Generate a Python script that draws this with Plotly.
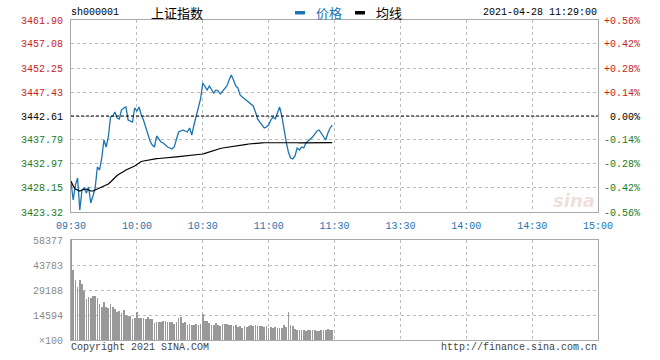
import plotly.graph_objects as go

# ---------------- data ----------------
prev_close = 3442.61

price = [
    3429.35, 3425.73, 3428.75, 3430.15, 3423.72, 3427.74, 3428.14, 3427.14, 3428.34, 3425.13,
    3426.53, 3428.14, 3432.36, 3431.76, 3434.17, 3437.79, 3436.38, 3438.39, 3442.41, 3442.61,
    3443.41, 3442.21, 3442.01, 3443.82, 3444.22, 3444.42, 3441.81, 3441.61, 3441.40, 3444.22,
    3443.61, 3444.42, 3442.81, 3441.81, 3440.40, 3438.79, 3437.59, 3436.78, 3436.38, 3438.59,
    3437.99, 3437.39, 3437.19, 3436.78, 3436.38, 3436.18, 3435.98, 3436.38, 3438.19, 3439.40,
    3439.60, 3439.80, 3439.60, 3439.40, 3440.20, 3438.79, 3440.80, 3442.61, 3444.22, 3446.03,
    3449.24, 3448.44, 3447.84, 3448.64, 3447.84, 3447.23, 3447.84, 3447.64, 3447.03, 3447.64,
    3448.24, 3448.64, 3449.85, 3450.85, 3449.85, 3448.64, 3448.24, 3446.83, 3446.43, 3446.03,
    3445.83, 3445.43, 3445.02, 3444.62, 3443.41, 3442.01, 3441.40, 3440.80, 3440.20, 3440.40,
    3440.80, 3441.81, 3442.41, 3442.01, 3443.41, 3444.42, 3442.61, 3439.80, 3437.39, 3435.38,
    3434.17, 3433.97, 3434.57, 3436.18, 3435.78, 3436.38, 3436.18, 3437.19, 3437.59, 3437.79,
    3438.39, 3438.99, 3439.60, 3439.80, 3439.19, 3438.59, 3437.79, 3439.19, 3440.20, 3440.80,
]

avg_price = [
    3429.55, 3428.55, 3427.94, 3427.74, 3427.54, 3427.74, 3427.84, 3427.94, 3427.74, 3427.54,
    3427.54, 3427.74, 3427.94, 3428.14, 3428.24, 3428.45, 3428.75, 3428.95, 3429.35, 3429.85,
    3430.35, 3430.66, 3430.96, 3431.16, 3431.46, 3431.76, 3431.96, 3432.06, 3432.26, 3432.56,
    3432.86, 3433.17, 3433.47, 3433.57, 3433.67, 3433.77, 3433.77, 3433.87, 3433.97, 3434.03,
    3434.07, 3434.13, 3434.17, 3434.21, 3434.25, 3434.29, 3434.33, 3434.37, 3434.41, 3434.45,
    3434.49, 3434.53, 3434.57, 3434.61, 3434.65, 3434.69, 3434.73, 3434.77, 3434.81, 3434.89,
    3434.97, 3435.10, 3435.25, 3435.40, 3435.58, 3435.78, 3435.88, 3435.98, 3436.08, 3436.18,
    3436.26, 3436.34, 3436.40, 3436.46, 3436.52, 3436.58, 3436.66, 3436.74, 3436.80, 3436.86,
    3436.92, 3436.98, 3437.04, 3437.10, 3437.14, 3437.18, 3437.20, 3437.22, 3437.23, 3437.24,
    3437.25, 3437.26, 3437.26, 3437.27, 3437.28, 3437.29, 3437.29, 3437.28, 3437.27, 3437.26,
    3437.25, 3437.24, 3437.23, 3437.23, 3437.22, 3437.22, 3437.22, 3437.22, 3437.22, 3437.23,
    3437.23, 3437.23, 3437.24, 3437.24, 3437.24, 3437.24, 3437.25, 3437.25, 3437.25, 3437.26,
]

volume = [
    58377, 40864, 35026, 31135, 35026, 32497, 28605, 23935, 25102, 24713,
    25881, 25492, 24713, 20822, 19264, 21990, 19264, 18487, 20822, 19459,
    18097, 16540, 16929, 15567, 17513, 14594, 14205, 14205, 12259, 12648,
    16151, 13038, 13038, 13038, 12259, 13427, 12259, 12259, 9730, 10702,
    10313, 10313, 11092, 11092, 10702, 10313, 10313, 9146, 10313, 12648,
    13427, 9730, 10313, 8757, 9146, 8757, 8757, 9146, 8757, 9146,
    14983, 11092, 11092, 9730, 8757, 8757, 9730, 8757, 7978, 9146,
    9535, 9146, 8757, 8757, 8367, 8757, 7589, 7978, 6811, 8367,
    7589, 7978, 8757, 8367, 8757, 7978, 8367, 7978, 7589, 7978,
    7200, 7589, 7200, 7589, 7200, 6811, 7200, 8757, 7784, 16540,
    8757, 7978, 6421, 6032, 5643, 6032, 5643, 5254, 5643, 5643,
    5643, 5643, 5254, 5254, 5643, 5643, 5643, 6421, 5838, 5838,
]

time_labels = ["09:30", "10:00", "10:30", "11:00", "11:30", "13:30", "14:00", "14:30", "15:00"]
price_tick_labels = ["3423.32", "3428.15", "3432.97", "3437.79", "3442.61",
                     "3447.43", "3452.25", "3457.08", "3461.90"]
pct_tick_labels = ["-0.56%", "-0.42%", "-0.28%", "-0.14%", "0.00%",
                   "+0.14%", "+0.28%", "+0.42%", "+0.56%"]
vol_tick_vals = [0, 14594, 29188, 43783, 58377]
vol_tick_labels = ["×100", "14594", "29188", "43783", "58377"]

stock_code = "sh000001"
stock_name = "上证指数"
legend_price = "价格"
legend_avg = "均线"
timestamp = "2021-04-28 11:29:00"
copyright_text = "Copyright 2021 SINA.COM"
url_text = "http://finance.sina.com.cn"

# ---------------- style ----------------
W, H = 660, 360
ML, MR, MT, MB = 71, 62, 20, 20
PW, PH = W - ML - MR, H - MT - MB
MONO = "Liberation Mono, DejaVu Sans Mono, monospace"
CJK = "Noto Sans CJK SC, sans-serif"
BLUE = "#1c74b0"
RED = "#c81e1e"
GREEN = "#1b7a1b"
GRID = "#bdbdbd"
FRAME = "#a8a8a8"


def px(x):
    return (x - ML) / PW


def py(y):
    return (H - MB - y) / PH


def colored(texts, colors):
    return ['<span style="color:%s">%s</span>' % (c, t) for t, c in zip(texts, colors)]


n_ticks = len(price_tick_labels)
mid = n_ticks // 2
tick_colors = [GREEN] * mid + ["#000000"] + [RED] * (n_ticks - mid - 1)
price_tick_vals = [float(t) for t in price_tick_labels]
pct_text = [t if t.startswith(("+", "-")) else "\u00a0" + t for t in pct_tick_labels]
time_tick_vals = list(range(0, 241, 30))
x_min = list(range(len(price)))

fig = go.Figure()
fig.add_trace(go.Bar(x=list(range(len(volume))), y=volume, width=0.32,
                     marker=dict(color="#999999", line=dict(width=0)),
                     xaxis="x2", yaxis="y3", hoverinfo="skip", showlegend=False))
fig.add_trace(go.Scatter(x=x_min, y=price, mode="lines", line=dict(color=BLUE, width=1.3),
                         xaxis="x", yaxis="y", hoverinfo="skip", showlegend=False))
fig.add_trace(go.Scatter(x=x_min, y=avg_price, mode="lines", line=dict(color="#000000", width=1.2),
                         xaxis="x", yaxis="y", hoverinfo="skip", showlegend=False))
fig.add_trace(go.Scatter(x=[0], y=[prev_close], mode="markers", marker=dict(opacity=0),
                         xaxis="x", yaxis="y2", hoverinfo="skip", showlegend=False))

common_x = dict(range=[0, 240], tickvals=time_tick_vals, showgrid=True, gridcolor=GRID,
                griddash="dot", gridwidth=1, showline=True, mirror=True, linecolor=FRAME,
                linewidth=1, zeroline=False, fixedrange=True)
fig.update_layout(
    width=W, height=H, margin=dict(l=ML, r=MR, t=MT, b=MB),
    paper_bgcolor="white", plot_bgcolor="white", bargap=0,
    font=dict(family=MONO, size=10, color="#000"),
    xaxis=dict(domain=[0, 1], anchor="y", ticktext=colored(time_labels, [BLUE] * len(time_labels)),
               ticks="outside", ticklen=4, tickcolor="rgba(0,0,0,0)",
               tickfont=dict(family=MONO, size=10, color=BLUE), **common_x),
    yaxis=dict(domain=[0.4, 1], anchor="x", range=[price_tick_vals[0], price_tick_vals[-1]],
               tickvals=price_tick_vals, ticktext=colored(price_tick_labels, tick_colors),
               ticks="outside", ticklen=5, tickcolor="rgba(0,0,0,0)",
               showgrid=True, gridcolor=GRID, griddash="dot", showline=True, mirror=True,
               linecolor=FRAME, zeroline=False, tickfont=dict(family=MONO, size=10)),
    yaxis2=dict(overlaying="y", side="right", anchor="x",
                range=[price_tick_vals[0], price_tick_vals[-1]],
                tickvals=price_tick_vals, ticktext=colored(pct_text, tick_colors),
                ticks="outside", ticklen=3, tickcolor="rgba(0,0,0,0)",
                showgrid=False, zeroline=False, showline=False,
                tickfont=dict(family=MONO, size=10)),
    xaxis2=dict(domain=[0, 1], anchor="y3", showticklabels=False, ticks="", **common_x),
    yaxis3=dict(domain=[0, 100 / PH], anchor="x2", range=[0, vol_tick_vals[-1]],
                tickvals=vol_tick_vals, ticktext=vol_tick_labels,
                ticks="outside", ticklen=5, tickcolor="rgba(0,0,0,0)",
                tickfont=dict(family=MONO, size=10, color="#8a8a8a"),
                showgrid=True, gridcolor=GRID, griddash="dot", showline=True, mirror=True,
                linecolor=FRAME, zeroline=False),
)

# previous-close reference line
fig.add_shape(type="line", xref="x", yref="y", x0=0, x1=240, y0=prev_close, y1=prev_close,
              line=dict(color="#000000", width=1, dash="3px,2px"))

# legend swatches
fig.add_shape(type="rect", xref="paper", yref="paper", x0=px(295), x1=px(305), y0=py(14.5), y1=py(11),
              fillcolor=BLUE, line=dict(width=0))
fig.add_shape(type="rect", xref="paper", yref="paper", x0=px(355), x1=px(365), y0=py(14.5), y1=py(11),
              fillcolor="#000000", line=dict(width=0))

ann = [
    dict(text=stock_code, x=px(70), y=py(13), xanchor="left", font=dict(family=MONO, size=10, color="#000")),
    dict(text=stock_name, x=px(177), y=py(12.5), xanchor="center", font=dict(family=CJK, size=13, color="#000")),
    dict(text=legend_price, x=px(315), y=py(12.5), xanchor="left", font=dict(family=CJK, size=13, color=BLUE)),
    dict(text=legend_avg, x=px(375), y=py(12.5), xanchor="left", font=dict(family=CJK, size=13, color="#000")),
    dict(text=timestamp, x=px(598), y=py(13), xanchor="right", font=dict(family=MONO, size=10, color="#000")),
    dict(text=copyright_text, x=px(70), y=py(347), xanchor="left", font=dict(family=MONO, size=10, color="#444")),
    dict(text=url_text, x=px(598), y=py(347), xanchor="right", font=dict(family=MONO, size=10, color="#444")),
    dict(text="<b><i>sina</i></b>", x=px(574), y=py(200), xanchor="center",
         font=dict(family="DejaVu Sans, sans-serif", size=18, color="rgba(205,140,140,0.28)")),
]
for a in ann:
    fig.add_annotation(xref="paper", yref="paper", yanchor="middle", showarrow=False,
                       borderpad=0, **a)

fig.write_html("out.html")
